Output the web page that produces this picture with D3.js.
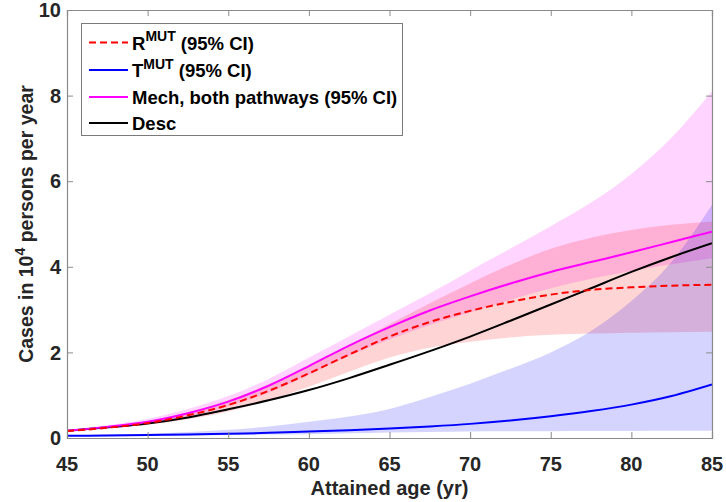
<!DOCTYPE html>
<html>
<head>
<meta charset="utf-8">
<script src="https://cdn.jsdelivr.net/npm/d3@7"></script>
<style>
  html, body { margin: 0; padding: 0; background: #fff; }
  svg { display: block; font-family: "Liberation Sans", Arial, sans-serif; }
</style>
</head>
<body>
<svg id="chart" width="726" height="502"></svg>
<script>
// Attained age (yr)
const ages = [45, 47.5, 50, 52.5, 55, 57.5, 60, 62.5, 65, 67.5, 70, 72.5, 75, 77.5, 80, 82.5, 85];

// R^MUT pathway: median and 95% CI
const rMut   = [0.16, 0.24, 0.35, 0.53, 0.77, 1.10, 1.51, 1.95, 2.37, 2.71, 2.97, 3.18, 3.35, 3.46, 3.52, 3.56, 3.58];
const rMutLo = [0.15, 0.22, 0.31, 0.44, 0.62, 0.88, 1.20, 1.55, 1.88, 2.11, 2.25, 2.35, 2.41, 2.44, 2.46, 2.47, 2.48];
const rMutHi = [0.17, 0.26, 0.39, 0.60, 0.88, 1.25, 1.68, 2.16, 2.66, 3.15, 3.61, 4.05, 4.42, 4.68, 4.86, 4.98, 5.06];

// T^MUT pathway: median and 95% CI
const tMut   = [0.05, 0.06, 0.07, 0.08, 0.10, 0.12, 0.15, 0.18, 0.22, 0.27, 0.33, 0.41, 0.51, 0.63, 0.78, 0.98, 1.25];
const tMutLo = [0.04, 0.045, 0.05, 0.06, 0.07, 0.08, 0.09, 0.11, 0.13, 0.14, 0.15, 0.155, 0.16, 0.165, 0.165, 0.17, 0.17];
const tMutHi = [0.06, 0.08, 0.10, 0.14, 0.19, 0.27, 0.38, 0.50, 0.68, 0.96, 1.27, 1.62, 2.00, 2.50, 3.20, 4.12, 5.45];

// Mechanistic model, both pathways: median and 95% CI
const mech   = [0.17, 0.26, 0.38, 0.58, 0.85, 1.22, 1.68, 2.16, 2.59, 2.98, 3.31, 3.61, 3.88, 4.11, 4.34, 4.58, 4.82];
const mechLo = [0.15, 0.22, 0.33, 0.50, 0.74, 1.06, 1.48, 1.92, 2.30, 2.64, 2.93, 3.23, 3.50, 3.72, 3.90, 4.06, 4.20];
const mechHi = [0.20, 0.30, 0.45, 0.68, 0.98, 1.38, 1.88, 2.38, 2.88, 3.38, 3.91, 4.43, 4.95, 5.50, 6.17, 7.02, 8.10];

// Descriptive model
const desc   = [0.17, 0.25, 0.34, 0.48, 0.67, 0.88, 1.12, 1.40, 1.71, 2.03, 2.37, 2.74, 3.12, 3.50, 3.88, 4.23, 4.55];

const xTicks = [45, 50, 55, 60, 65, 70, 75, 80, 85];
const yTicks = [0, 2, 4, 6, 8, 10];

const svg = d3.select("#chart");
const pLeft = 67, pRight = 712, pTop = 10, pBottom = 438;
const textColor = "#262626";
const axisColor = "#8a8a8a";

const x = d3.scaleLinear().domain([45, 85]).range([pLeft, pRight]);
const y = d3.scaleLinear().domain([0, 10]).range([pBottom, pTop]);

const plot = svg.append("g");
plot.append("clipPath").attr("id", "clip")
  .append("rect").attr("x", pLeft).attr("y", pTop).attr("width", pRight - pLeft).attr("height", pBottom - pTop);
const clipped = plot.append("g").attr("clip-path", "url(#clip)");

function band(lo, hi, color) {
  const area = d3.area()
    .x((d, i) => x(ages[i]))
    .y0((d, i) => y(lo[i]))
    .y1((d, i) => y(hi[i]))
    .curve(d3.curveMonotoneX);
  clipped.append("path").datum(ages).attr("d", area)
    .attr("fill", color).attr("fill-opacity", 0.17).attr("stroke", "none");
}

function curve(vals, color, dash) {
  const line = d3.line()
    .x((d, i) => x(ages[i]))
    .y((d, i) => y(vals[i]))
    .curve(d3.curveMonotoneX);
  clipped.append("path").datum(ages).attr("d", line)
    .attr("fill", "none").attr("stroke", color).attr("stroke-width", 2)
    .attr("stroke-dasharray", dash || null);
}

// confidence bands
band(mechLo, mechHi, "#ff00ff");
band(rMutLo, rMutHi, "#ff0000");
band(tMutLo, tMutHi, "#0000ff");

// central estimates
curve(desc, "#000000");
curve(tMut, "#0000ff");
curve(mech, "#ff00ff");
curve(rMut, "#ff0000", "7,4");

// axes box with inward ticks on all four sides
const tickLen = 6;
const axBottom = d3.axisTop(x).tickValues(xTicks).tickSize(tickLen).tickFormat("");
const axTop = d3.axisBottom(x).tickValues(xTicks).tickSize(tickLen).tickFormat("");
const axLeft = d3.axisRight(y).tickValues(yTicks).tickSize(tickLen).tickFormat("");
const axRight = d3.axisLeft(y).tickValues(yTicks).tickSize(tickLen).tickFormat("");

function styleAxis(g) {
  g.selectAll("path.domain").attr("stroke", axisColor).attr("stroke-width", 1.2);
  g.selectAll(".tick line").attr("stroke", axisColor).attr("stroke-width", 1);
}
svg.append("g").attr("transform", `translate(0,${pBottom})`).call(axBottom).call(styleAxis);
svg.append("g").attr("transform", `translate(0,${pTop})`).call(axTop).call(styleAxis);
svg.append("g").attr("transform", `translate(${pLeft},0)`).call(axLeft).call(styleAxis);
svg.append("g").attr("transform", `translate(${pRight},0)`).call(axRight).call(styleAxis);

// tick labels
svg.append("g").selectAll("text").data(xTicks).join("text")
  .attr("x", d => x(d)).attr("y", 471)
  .attr("text-anchor", "middle")
  .attr("font-size", 20).attr("font-weight", "bold").attr("fill", textColor)
  .text(d => d);

svg.append("g").selectAll("text").data(yTicks).join("text")
  .attr("x", 61).attr("y", d => y(d)).attr("dy", "0.36em")
  .attr("text-anchor", "end")
  .attr("font-size", 20).attr("font-weight", "bold").attr("fill", textColor)
  .text(d => d);

// axis titles
svg.append("text")
  .attr("x", (pLeft + pRight) / 2).attr("y", 495)
  .attr("text-anchor", "middle")
  .attr("font-size", 20).attr("font-weight", "bold").attr("fill", textColor)
  .text("Attained age (yr)");

const yTitle = svg.append("text")
  .attr("transform", `translate(33,${(pTop + pBottom) / 2}) rotate(-90)`)
  .attr("text-anchor", "middle")
  .attr("font-size", 19.5).attr("font-weight", "bold").attr("fill", textColor);
yTitle.append("tspan").text("Cases in 10");
yTitle.append("tspan").attr("dy", -8).attr("font-size", 14).text("4");
yTitle.append("tspan").attr("dy", 8).text(" persons per year");

// legend
const legend = svg.append("g");
legend.append("rect")
  .attr("x", 81.5).attr("y", 23.5).attr("width", 321).attr("height", 112)
  .attr("fill", "#fff").attr("stroke", "#7a7a7a").attr("stroke-width", 1);

const legendItems = [
  { color: "#ff0000", dash: "7,4", base: "R", sup: "MUT", rest: " (95% CI)" },
  { color: "#0000ff", dash: null, base: "T", sup: "MUT", rest: " (95% CI)" },
  { color: "#ff00ff", dash: null, base: "Mech, both pathways (95% CI)", sup: null, rest: "" },
  { color: "#000000", dash: null, base: "Desc", sup: null, rest: "" }
];
const legendY = [42.5, 70, 97, 123];

legendItems.forEach((it, i) => {
  const ly = legendY[i];
  legend.append("line")
    .attr("x1", 89).attr("x2", 128).attr("y1", ly).attr("y2", ly)
    .attr("stroke", it.color).attr("stroke-width", 2)
    .attr("stroke-dasharray", it.dash);
  const t = legend.append("text")
    .attr("x", 132).attr("y", ly + 7)
    .attr("font-size", 18.5).attr("font-weight", "bold").attr("fill", "#000");
  t.append("tspan").text(it.base);
  if (it.sup) {
    t.append("tspan").attr("dy", -8.5).attr("font-size", 14).text(it.sup);
    t.append("tspan").attr("dy", 8.5).text(it.rest);
  }
});
</script>
</body>
</html>
